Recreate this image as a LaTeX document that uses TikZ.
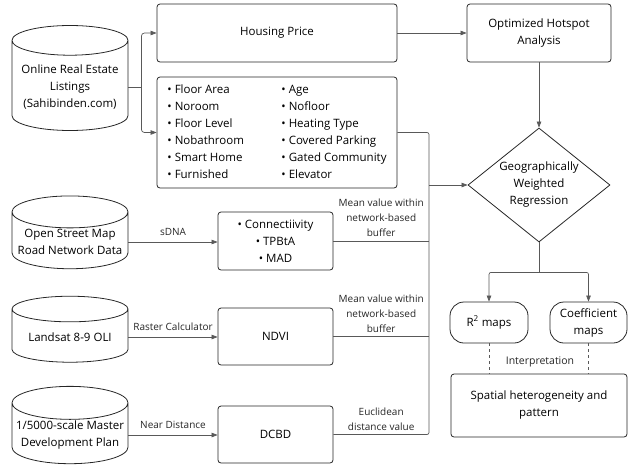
\documentclass[tikz,border=0pt]{standalone}
\usepackage{fontspec}
\setmainfont{Open Sans}
\usetikzlibrary{arrows.meta, shapes.geometric, positioning}

\tikzset{
  box/.style={draw=black!85, line width=0.8pt, rounded corners=3pt, align=center,
    font=\fontsize{11.5}{17}\selectfont, inner sep=2pt},
  dbase/.style={cylinder, shape border rotate=90, shape aspect=0.3, draw=black!85,
    line width=0.8pt, align=center, font=\fontsize{11.5}{17}\selectfont,
    minimum width=116pt, minimum height=#1, inner sep=1pt},
  dbase/.default=66pt,
  line/.style={draw=black!65, line width=0.7pt},
  link/.style={line, -{Triangle[length=6pt,width=4.5pt]}},
  lbl/.style={font=\fontsize{10}{15}\selectfont, align=center, text=black!85},
}

\begin{document}
\begin{tikzpicture}[x=1pt,y=1pt]
  \useasboundingbox (0,0) rectangle (640,-469);

  % Sources
  \node[dbase=105pt] (listings) at (70,-87) {Online Real Estate\\Listings\\(Sahibinden.com)};
  \node[dbase=68pt] (osm) at (70,-242) {Open Street Map\\Road Network Data};
  \node[dbase] (landsat) at (70,-337) {Landsat 8-9 OLI};
  \node[dbase=65pt] (plan) at (70,-435) {1/5000-scale Master\\Development Plan};

  % Variables
  \node[box, minimum width=240pt, minimum height=58pt] (price) at (277,-33) {Housing Price};
  \node[box, minimum width=240pt, minimum height=111pt] (feat) at (277,-132.5) {%
    \begin{tabular}{@{}p{114pt}@{}l@{}}
      \textbullet\ Floor Area   & \textbullet\ Age\\
      \textbullet\ Noroom       & \textbullet\ Nofloor\\
      \textbullet\ Floor Level  & \textbullet\ Heating Type\\
      \textbullet\ Nobathroom   & \textbullet\ Covered Parking\\
      \textbullet\ Smart Home   & \textbullet\ Gated Community\\
      \textbullet\ Furnished    & \textbullet\ Elevator
    \end{tabular}};
  \node[box, minimum width=115pt, minimum height=58pt] (conn) at (275.5,-241)
    {\textbullet\ Connectiivity\\\textbullet\ TPBtA\\\textbullet\ MAD};
  \node[box, minimum width=115pt, minimum height=57pt] (ndvi) at (275.5,-336.5) {NDVI};
  \node[box, minimum width=115pt, minimum height=57pt] (dcbd) at (275.5,-434.5) {DCBD};

  % Analysis
  \node[box, minimum width=144pt, minimum height=58pt] (hotspot) at (539,-33) {Optimized Hotspot\\Analysis};
  \node[box, diamond, shape aspect=1.25, rounded corners=0pt, inner sep=0pt, minimum width=142pt, minimum height=114pt]
    (gwr) at (539,-185) {Geographically\\Weighted\\Regression};
  \node[box, rounded corners=14pt, minimum width=78pt, minimum height=41pt] (r2) at (489,-322.5) {R\textsuperscript{2} maps};
  \node[box, rounded corners=14pt, minimum width=77pt, minimum height=41pt] (coef) at (588.5,-322.5) {Coefficient\\maps};
  \node[box, minimum width=176pt, minimum height=63pt] (spatial) at (539,-405.5) {Spatial heterogeneity and\\pattern};

  % Listings split
  \coordinate (split) at ([xshift=13pt]listings.east);
  \draw[line] (listings.east) -- (split);
  \draw[link, rounded corners=3pt] (split) |- (price.west);
  \draw[link, rounded corners=3pt] (split) |- (feat.west);

  % Processing steps
  \draw[link] (osm.east) -- (osm.east -| conn.west) node[lbl, midway, above=3pt] {sDNA};
  \draw[link] (landsat.east) -- (landsat.east -| ndvi.west) node[lbl, midway, above=3pt] {Raster Calculator};
  \draw[link] (plan.east) -- (plan.east -| dcbd.west) node[lbl, midway, above=3pt] {Near Distance};

  % Collector into GWR
  \coordinate (bus) at (429,-185);
  \draw[line, rounded corners=2pt] (feat.east) -- (feat.east -| bus) -- (dcbd.east -| bus) -- (dcbd.east);
  \draw[line] (conn.east) -- (conn.east -| bus)
    node[lbl, midway, above=0.5pt] {Mean value within\\network-based\\buffer};
  \draw[line] (ndvi.east) -- (ndvi.east -| bus)
    node[lbl, midway, above=0.5pt] {Mean value within\\network-based\\buffer};
  \path (dcbd.east) -- (dcbd.east -| bus)
    node[lbl, midway, above=0.5pt] {Euclidean\\distance value};
  \draw[link] (bus) -- (gwr.west);

  % Hotspot
  \draw[link] (price.east) -- (hotspot.west);
  \draw[link] (hotspot.south) -- (gwr.north);

  % Maps
  \coordinate (fork) at ([yshift=-30pt]gwr.south);
  \draw[line] (gwr.south) -- (fork);
  \draw[link, rounded corners=2pt] (fork) -| (r2.north);
  \draw[link, rounded corners=2pt] (fork) -| (coef.north);

  % Interpretation
  \draw[line, dashed] (r2.south) -- (r2.south |- spatial.north);
  \draw[line, dashed] (coef.south) -- (coef.south |- spatial.north);
  \node[lbl, font=\fontsize{10.5}{15}\selectfont] (interp) at (540,-362) {Interpretation};

\end{tikzpicture}
\end{document}
